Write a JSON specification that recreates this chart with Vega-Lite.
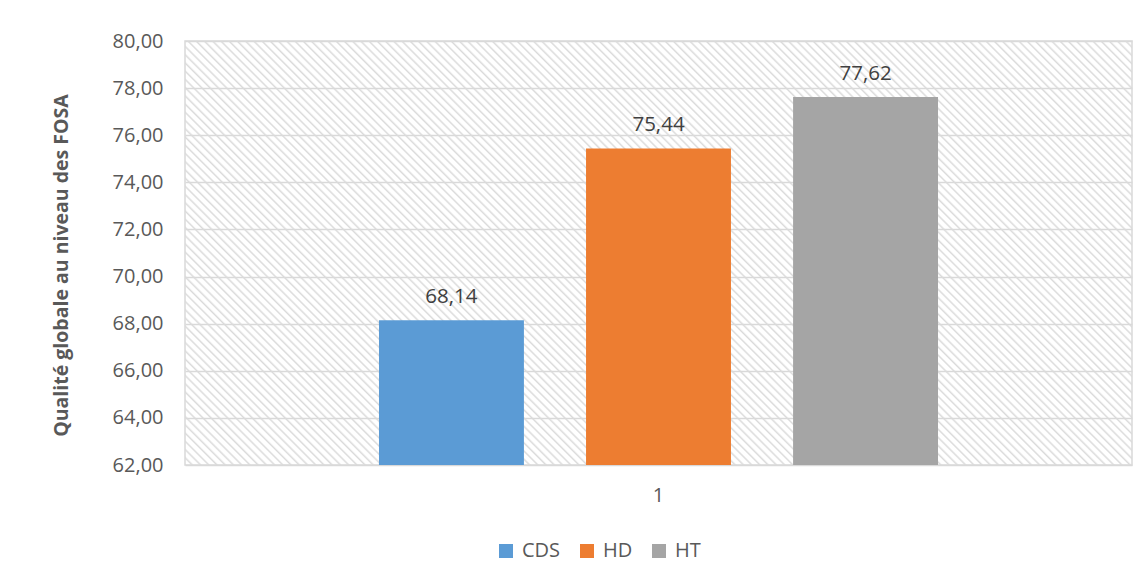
{
  "$schema": "https://vega.github.io/schema/vega-lite/v6.json",
  "width": 947,
  "height": 424,
  "autosize": "none",
  "padding": {"left": 185, "top": 41, "right": 16, "bottom": 115},
  "config": {
    "font": "Open Sans",
    "locale": {"number": {"decimal": ",", "thousands": " ", "grouping": [3], "currency": ["", " €"]}},
    "view": {"stroke": "#d9d9d9", "strokeWidth": 1.5},
    "legend": {
      "orient": "none", "legendX": 311, "legendY": 500, "direction": "horizontal",
      "symbolType": "square", "symbolSize": 196, "symbolStrokeWidth": 0,
      "labelFontSize": 20, "labelColor": "#595959", "labelFont": "Open Sans",
      "columnPadding": 16, "labelOffset": 6
    }
  },
  "layer": [
    {
      "data": {"values": [{}]},
      "mark": {
        "type": "rect",
        "fill": {
          "gradient": "linear", "x1": 1, "y1": 0, "x2": -0.206, "y2": 0.54,
          "stops": [
{"offset":0,"color":"rgba(218,218,218,0)"},{"offset":0.003,"color":"rgba(218,218,218,0)"},{"offset":0.0047,"color":"#dadada"},
{"offset":0.006,"color":"rgba(218,218,218,0)"},{"offset":0.009,"color":"rgba(218,218,218,0)"},{"offset":0.0107,"color":"#dadada"},
{"offset":0.012,"color":"rgba(218,218,218,0)"},{"offset":0.015,"color":"rgba(218,218,218,0)"},{"offset":0.0167,"color":"#dadada"},
{"offset":0.018,"color":"rgba(218,218,218,0)"},{"offset":0.021,"color":"rgba(218,218,218,0)"},{"offset":0.0227,"color":"#dadada"},
{"offset":0.024,"color":"rgba(218,218,218,0)"},{"offset":0.027,"color":"rgba(218,218,218,0)"},{"offset":0.0287,"color":"#dadada"},
{"offset":0.03,"color":"rgba(218,218,218,0)"},{"offset":0.033,"color":"rgba(218,218,218,0)"},{"offset":0.0347,"color":"#dadada"},
{"offset":0.036,"color":"rgba(218,218,218,0)"},{"offset":0.039,"color":"rgba(218,218,218,0)"},{"offset":0.0407,"color":"#dadada"},
{"offset":0.042,"color":"rgba(218,218,218,0)"},{"offset":0.045,"color":"rgba(218,218,218,0)"},{"offset":0.0467,"color":"#dadada"},
{"offset":0.048,"color":"rgba(218,218,218,0)"},{"offset":0.051,"color":"rgba(218,218,218,0)"},{"offset":0.0527,"color":"#dadada"},
{"offset":0.054,"color":"rgba(218,218,218,0)"},{"offset":0.057,"color":"rgba(218,218,218,0)"},{"offset":0.0587,"color":"#dadada"},
{"offset":0.06,"color":"rgba(218,218,218,0)"},{"offset":0.063,"color":"rgba(218,218,218,0)"},{"offset":0.0647,"color":"#dadada"},
{"offset":0.066,"color":"rgba(218,218,218,0)"},{"offset":0.069,"color":"rgba(218,218,218,0)"},{"offset":0.0707,"color":"#dadada"},
{"offset":0.072,"color":"rgba(218,218,218,0)"},{"offset":0.075,"color":"rgba(218,218,218,0)"},{"offset":0.0767,"color":"#dadada"},
{"offset":0.078,"color":"rgba(218,218,218,0)"},{"offset":0.081,"color":"rgba(218,218,218,0)"},{"offset":0.0827,"color":"#dadada"},
{"offset":0.084,"color":"rgba(218,218,218,0)"},{"offset":0.087,"color":"rgba(218,218,218,0)"},{"offset":0.0887,"color":"#dadada"},
{"offset":0.09,"color":"rgba(218,218,218,0)"},{"offset":0.093,"color":"rgba(218,218,218,0)"},{"offset":0.0947,"color":"#dadada"},
{"offset":0.096,"color":"rgba(218,218,218,0)"},{"offset":0.099,"color":"rgba(218,218,218,0)"},{"offset":0.1007,"color":"#dadada"},
{"offset":0.102,"color":"rgba(218,218,218,0)"},{"offset":0.105,"color":"rgba(218,218,218,0)"},{"offset":0.1067,"color":"#dadada"},
{"offset":0.108,"color":"rgba(218,218,218,0)"},{"offset":0.111,"color":"rgba(218,218,218,0)"},{"offset":0.1127,"color":"#dadada"},
{"offset":0.114,"color":"rgba(218,218,218,0)"},{"offset":0.117,"color":"rgba(218,218,218,0)"},{"offset":0.1187,"color":"#dadada"},
{"offset":0.12,"color":"rgba(218,218,218,0)"},{"offset":0.123,"color":"rgba(218,218,218,0)"},{"offset":0.1247,"color":"#dadada"},
{"offset":0.126,"color":"rgba(218,218,218,0)"},{"offset":0.129,"color":"rgba(218,218,218,0)"},{"offset":0.1307,"color":"#dadada"},
{"offset":0.132,"color":"rgba(218,218,218,0)"},{"offset":0.135,"color":"rgba(218,218,218,0)"},{"offset":0.1367,"color":"#dadada"},
{"offset":0.138,"color":"rgba(218,218,218,0)"},{"offset":0.141,"color":"rgba(218,218,218,0)"},{"offset":0.1427,"color":"#dadada"},
{"offset":0.144,"color":"rgba(218,218,218,0)"},{"offset":0.147,"color":"rgba(218,218,218,0)"},{"offset":0.1487,"color":"#dadada"},
{"offset":0.15,"color":"rgba(218,218,218,0)"},{"offset":0.153,"color":"rgba(218,218,218,0)"},{"offset":0.1547,"color":"#dadada"},
{"offset":0.156,"color":"rgba(218,218,218,0)"},{"offset":0.159,"color":"rgba(218,218,218,0)"},{"offset":0.1607,"color":"#dadada"},
{"offset":0.162,"color":"rgba(218,218,218,0)"},{"offset":0.165,"color":"rgba(218,218,218,0)"},{"offset":0.1667,"color":"#dadada"},
{"offset":0.168,"color":"rgba(218,218,218,0)"},{"offset":0.171,"color":"rgba(218,218,218,0)"},{"offset":0.1727,"color":"#dadada"},
{"offset":0.174,"color":"rgba(218,218,218,0)"},{"offset":0.177,"color":"rgba(218,218,218,0)"},{"offset":0.1787,"color":"#dadada"},
{"offset":0.18,"color":"rgba(218,218,218,0)"},{"offset":0.183,"color":"rgba(218,218,218,0)"},{"offset":0.1847,"color":"#dadada"},
{"offset":0.186,"color":"rgba(218,218,218,0)"},{"offset":0.189,"color":"rgba(218,218,218,0)"},{"offset":0.1907,"color":"#dadada"},
{"offset":0.192,"color":"rgba(218,218,218,0)"},{"offset":0.195,"color":"rgba(218,218,218,0)"},{"offset":0.1967,"color":"#dadada"},
{"offset":0.198,"color":"rgba(218,218,218,0)"},{"offset":0.201,"color":"rgba(218,218,218,0)"},{"offset":0.2027,"color":"#dadada"},
{"offset":0.204,"color":"rgba(218,218,218,0)"},{"offset":0.207,"color":"rgba(218,218,218,0)"},{"offset":0.2087,"color":"#dadada"},
{"offset":0.21,"color":"rgba(218,218,218,0)"},{"offset":0.213,"color":"rgba(218,218,218,0)"},{"offset":0.2147,"color":"#dadada"},
{"offset":0.216,"color":"rgba(218,218,218,0)"},{"offset":0.219,"color":"rgba(218,218,218,0)"},{"offset":0.2207,"color":"#dadada"},
{"offset":0.222,"color":"rgba(218,218,218,0)"},{"offset":0.225,"color":"rgba(218,218,218,0)"},{"offset":0.2267,"color":"#dadada"},
{"offset":0.228,"color":"rgba(218,218,218,0)"},{"offset":0.231,"color":"rgba(218,218,218,0)"},{"offset":0.2327,"color":"#dadada"},
{"offset":0.234,"color":"rgba(218,218,218,0)"},{"offset":0.237,"color":"rgba(218,218,218,0)"},{"offset":0.2387,"color":"#dadada"},
{"offset":0.24,"color":"rgba(218,218,218,0)"},{"offset":0.243,"color":"rgba(218,218,218,0)"},{"offset":0.2447,"color":"#dadada"},
{"offset":0.246,"color":"rgba(218,218,218,0)"},{"offset":0.249,"color":"rgba(218,218,218,0)"},{"offset":0.2507,"color":"#dadada"},
{"offset":0.252,"color":"rgba(218,218,218,0)"},{"offset":0.255,"color":"rgba(218,218,218,0)"},{"offset":0.2567,"color":"#dadada"},
{"offset":0.258,"color":"rgba(218,218,218,0)"},{"offset":0.261,"color":"rgba(218,218,218,0)"},{"offset":0.2627,"color":"#dadada"},
{"offset":0.264,"color":"rgba(218,218,218,0)"},{"offset":0.267,"color":"rgba(218,218,218,0)"},{"offset":0.2687,"color":"#dadada"},
{"offset":0.27,"color":"rgba(218,218,218,0)"},{"offset":0.273,"color":"rgba(218,218,218,0)"},{"offset":0.2747,"color":"#dadada"},
{"offset":0.276,"color":"rgba(218,218,218,0)"},{"offset":0.279,"color":"rgba(218,218,218,0)"},{"offset":0.2807,"color":"#dadada"},
{"offset":0.282,"color":"rgba(218,218,218,0)"},{"offset":0.285,"color":"rgba(218,218,218,0)"},{"offset":0.2867,"color":"#dadada"},
{"offset":0.288,"color":"rgba(218,218,218,0)"},{"offset":0.291,"color":"rgba(218,218,218,0)"},{"offset":0.2927,"color":"#dadada"},
{"offset":0.294,"color":"rgba(218,218,218,0)"},{"offset":0.297,"color":"rgba(218,218,218,0)"},{"offset":0.2987,"color":"#dadada"},
{"offset":0.3,"color":"rgba(218,218,218,0)"},{"offset":0.303,"color":"rgba(218,218,218,0)"},{"offset":0.3047,"color":"#dadada"},
{"offset":0.306,"color":"rgba(218,218,218,0)"},{"offset":0.309,"color":"rgba(218,218,218,0)"},{"offset":0.3107,"color":"#dadada"},
{"offset":0.312,"color":"rgba(218,218,218,0)"},{"offset":0.315,"color":"rgba(218,218,218,0)"},{"offset":0.3167,"color":"#dadada"},
{"offset":0.318,"color":"rgba(218,218,218,0)"},{"offset":0.321,"color":"rgba(218,218,218,0)"},{"offset":0.3227,"color":"#dadada"},
{"offset":0.324,"color":"rgba(218,218,218,0)"},{"offset":0.327,"color":"rgba(218,218,218,0)"},{"offset":0.3287,"color":"#dadada"},
{"offset":0.33,"color":"rgba(218,218,218,0)"},{"offset":0.333,"color":"rgba(218,218,218,0)"},{"offset":0.3347,"color":"#dadada"},
{"offset":0.336,"color":"rgba(218,218,218,0)"},{"offset":0.339,"color":"rgba(218,218,218,0)"},{"offset":0.3407,"color":"#dadada"},
{"offset":0.342,"color":"rgba(218,218,218,0)"},{"offset":0.345,"color":"rgba(218,218,218,0)"},{"offset":0.3467,"color":"#dadada"},
{"offset":0.348,"color":"rgba(218,218,218,0)"},{"offset":0.351,"color":"rgba(218,218,218,0)"},{"offset":0.3527,"color":"#dadada"},
{"offset":0.354,"color":"rgba(218,218,218,0)"},{"offset":0.357,"color":"rgba(218,218,218,0)"},{"offset":0.3587,"color":"#dadada"},
{"offset":0.36,"color":"rgba(218,218,218,0)"},{"offset":0.363,"color":"rgba(218,218,218,0)"},{"offset":0.3647,"color":"#dadada"},
{"offset":0.366,"color":"rgba(218,218,218,0)"},{"offset":0.369,"color":"rgba(218,218,218,0)"},{"offset":0.3707,"color":"#dadada"},
{"offset":0.372,"color":"rgba(218,218,218,0)"},{"offset":0.375,"color":"rgba(218,218,218,0)"},{"offset":0.3767,"color":"#dadada"},
{"offset":0.378,"color":"rgba(218,218,218,0)"},{"offset":0.381,"color":"rgba(218,218,218,0)"},{"offset":0.3827,"color":"#dadada"},
{"offset":0.384,"color":"rgba(218,218,218,0)"},{"offset":0.387,"color":"rgba(218,218,218,0)"},{"offset":0.3887,"color":"#dadada"},
{"offset":0.39,"color":"rgba(218,218,218,0)"},{"offset":0.393,"color":"rgba(218,218,218,0)"},{"offset":0.3947,"color":"#dadada"},
{"offset":0.396,"color":"rgba(218,218,218,0)"},{"offset":0.399,"color":"rgba(218,218,218,0)"},{"offset":0.4007,"color":"#dadada"},
{"offset":0.402,"color":"rgba(218,218,218,0)"},{"offset":0.405,"color":"rgba(218,218,218,0)"},{"offset":0.4067,"color":"#dadada"},
{"offset":0.408,"color":"rgba(218,218,218,0)"},{"offset":0.411,"color":"rgba(218,218,218,0)"},{"offset":0.4127,"color":"#dadada"},
{"offset":0.414,"color":"rgba(218,218,218,0)"},{"offset":0.417,"color":"rgba(218,218,218,0)"},{"offset":0.4187,"color":"#dadada"},
{"offset":0.42,"color":"rgba(218,218,218,0)"},{"offset":0.423,"color":"rgba(218,218,218,0)"},{"offset":0.4247,"color":"#dadada"},
{"offset":0.426,"color":"rgba(218,218,218,0)"},{"offset":0.429,"color":"rgba(218,218,218,0)"},{"offset":0.4307,"color":"#dadada"},
{"offset":0.432,"color":"rgba(218,218,218,0)"},{"offset":0.435,"color":"rgba(218,218,218,0)"},{"offset":0.4367,"color":"#dadada"},
{"offset":0.438,"color":"rgba(218,218,218,0)"},{"offset":0.441,"color":"rgba(218,218,218,0)"},{"offset":0.4427,"color":"#dadada"},
{"offset":0.444,"color":"rgba(218,218,218,0)"},{"offset":0.447,"color":"rgba(218,218,218,0)"},{"offset":0.4487,"color":"#dadada"},
{"offset":0.45,"color":"rgba(218,218,218,0)"},{"offset":0.453,"color":"rgba(218,218,218,0)"},{"offset":0.4547,"color":"#dadada"},
{"offset":0.456,"color":"rgba(218,218,218,0)"},{"offset":0.459,"color":"rgba(218,218,218,0)"},{"offset":0.4607,"color":"#dadada"},
{"offset":0.462,"color":"rgba(218,218,218,0)"},{"offset":0.465,"color":"rgba(218,218,218,0)"},{"offset":0.4667,"color":"#dadada"},
{"offset":0.468,"color":"rgba(218,218,218,0)"},{"offset":0.471,"color":"rgba(218,218,218,0)"},{"offset":0.4727,"color":"#dadada"},
{"offset":0.474,"color":"rgba(218,218,218,0)"},{"offset":0.477,"color":"rgba(218,218,218,0)"},{"offset":0.4787,"color":"#dadada"},
{"offset":0.48,"color":"rgba(218,218,218,0)"},{"offset":0.483,"color":"rgba(218,218,218,0)"},{"offset":0.4847,"color":"#dadada"},
{"offset":0.486,"color":"rgba(218,218,218,0)"},{"offset":0.489,"color":"rgba(218,218,218,0)"},{"offset":0.4907,"color":"#dadada"},
{"offset":0.492,"color":"rgba(218,218,218,0)"},{"offset":0.495,"color":"rgba(218,218,218,0)"},{"offset":0.4967,"color":"#dadada"},
{"offset":0.498,"color":"rgba(218,218,218,0)"},{"offset":0.501,"color":"rgba(218,218,218,0)"},{"offset":0.5027,"color":"#dadada"},
{"offset":0.504,"color":"rgba(218,218,218,0)"},{"offset":0.507,"color":"rgba(218,218,218,0)"},{"offset":0.5087,"color":"#dadada"},
{"offset":0.51,"color":"rgba(218,218,218,0)"},{"offset":0.513,"color":"rgba(218,218,218,0)"},{"offset":0.5147,"color":"#dadada"},
{"offset":0.516,"color":"rgba(218,218,218,0)"},{"offset":0.519,"color":"rgba(218,218,218,0)"},{"offset":0.5207,"color":"#dadada"},
{"offset":0.522,"color":"rgba(218,218,218,0)"},{"offset":0.525,"color":"rgba(218,218,218,0)"},{"offset":0.5267,"color":"#dadada"},
{"offset":0.528,"color":"rgba(218,218,218,0)"},{"offset":0.531,"color":"rgba(218,218,218,0)"},{"offset":0.5327,"color":"#dadada"},
{"offset":0.534,"color":"rgba(218,218,218,0)"},{"offset":0.537,"color":"rgba(218,218,218,0)"},{"offset":0.5387,"color":"#dadada"},
{"offset":0.54,"color":"rgba(218,218,218,0)"},{"offset":0.543,"color":"rgba(218,218,218,0)"},{"offset":0.5447,"color":"#dadada"},
{"offset":0.546,"color":"rgba(218,218,218,0)"},{"offset":0.549,"color":"rgba(218,218,218,0)"},{"offset":0.5507,"color":"#dadada"},
{"offset":0.552,"color":"rgba(218,218,218,0)"},{"offset":0.555,"color":"rgba(218,218,218,0)"},{"offset":0.5567,"color":"#dadada"},
{"offset":0.558,"color":"rgba(218,218,218,0)"},{"offset":0.561,"color":"rgba(218,218,218,0)"},{"offset":0.5627,"color":"#dadada"},
{"offset":0.564,"color":"rgba(218,218,218,0)"},{"offset":0.567,"color":"rgba(218,218,218,0)"},{"offset":0.5687,"color":"#dadada"},
{"offset":0.57,"color":"rgba(218,218,218,0)"},{"offset":0.573,"color":"rgba(218,218,218,0)"},{"offset":0.5747,"color":"#dadada"},
{"offset":0.576,"color":"rgba(218,218,218,0)"},{"offset":0.579,"color":"rgba(218,218,218,0)"},{"offset":0.5807,"color":"#dadada"},
{"offset":0.582,"color":"rgba(218,218,218,0)"},{"offset":0.585,"color":"rgba(218,218,218,0)"},{"offset":0.5867,"color":"#dadada"},
{"offset":0.588,"color":"rgba(218,218,218,0)"},{"offset":0.591,"color":"rgba(218,218,218,0)"},{"offset":0.5927,"color":"#dadada"},
{"offset":0.594,"color":"rgba(218,218,218,0)"},{"offset":0.597,"color":"rgba(218,218,218,0)"},{"offset":0.5987,"color":"#dadada"},
{"offset":0.6,"color":"rgba(218,218,218,0)"},{"offset":0.603,"color":"rgba(218,218,218,0)"},{"offset":0.6047,"color":"#dadada"},
{"offset":0.606,"color":"rgba(218,218,218,0)"},{"offset":0.609,"color":"rgba(218,218,218,0)"},{"offset":0.6107,"color":"#dadada"},
{"offset":0.612,"color":"rgba(218,218,218,0)"},{"offset":0.615,"color":"rgba(218,218,218,0)"},{"offset":0.6167,"color":"#dadada"},
{"offset":0.618,"color":"rgba(218,218,218,0)"},{"offset":0.621,"color":"rgba(218,218,218,0)"},{"offset":0.6227,"color":"#dadada"},
{"offset":0.624,"color":"rgba(218,218,218,0)"},{"offset":0.627,"color":"rgba(218,218,218,0)"},{"offset":0.6287,"color":"#dadada"},
{"offset":0.63,"color":"rgba(218,218,218,0)"},{"offset":0.633,"color":"rgba(218,218,218,0)"},{"offset":0.6347,"color":"#dadada"},
{"offset":0.636,"color":"rgba(218,218,218,0)"},{"offset":0.639,"color":"rgba(218,218,218,0)"},{"offset":0.6407,"color":"#dadada"},
{"offset":0.642,"color":"rgba(218,218,218,0)"},{"offset":0.645,"color":"rgba(218,218,218,0)"},{"offset":0.6467,"color":"#dadada"},
{"offset":0.648,"color":"rgba(218,218,218,0)"},{"offset":0.651,"color":"rgba(218,218,218,0)"},{"offset":0.6527,"color":"#dadada"},
{"offset":0.654,"color":"rgba(218,218,218,0)"},{"offset":0.657,"color":"rgba(218,218,218,0)"},{"offset":0.6587,"color":"#dadada"},
{"offset":0.66,"color":"rgba(218,218,218,0)"},{"offset":0.663,"color":"rgba(218,218,218,0)"},{"offset":0.6647,"color":"#dadada"},
{"offset":0.666,"color":"rgba(218,218,218,0)"},{"offset":0.669,"color":"rgba(218,218,218,0)"},{"offset":0.6707,"color":"#dadada"},
{"offset":0.672,"color":"rgba(218,218,218,0)"},{"offset":0.675,"color":"rgba(218,218,218,0)"},{"offset":0.6767,"color":"#dadada"},
{"offset":0.678,"color":"rgba(218,218,218,0)"},{"offset":0.681,"color":"rgba(218,218,218,0)"},{"offset":0.6827,"color":"#dadada"},
{"offset":0.684,"color":"rgba(218,218,218,0)"},{"offset":0.687,"color":"rgba(218,218,218,0)"},{"offset":0.6887,"color":"#dadada"},
{"offset":0.69,"color":"rgba(218,218,218,0)"},{"offset":0.693,"color":"rgba(218,218,218,0)"},{"offset":0.6947,"color":"#dadada"},
{"offset":0.696,"color":"rgba(218,218,218,0)"},{"offset":0.699,"color":"rgba(218,218,218,0)"},{"offset":0.7007,"color":"#dadada"},
{"offset":0.702,"color":"rgba(218,218,218,0)"},{"offset":0.705,"color":"rgba(218,218,218,0)"},{"offset":0.7067,"color":"#dadada"},
{"offset":0.708,"color":"rgba(218,218,218,0)"},{"offset":0.711,"color":"rgba(218,218,218,0)"},{"offset":0.7127,"color":"#dadada"},
{"offset":0.714,"color":"rgba(218,218,218,0)"},{"offset":0.717,"color":"rgba(218,218,218,0)"},{"offset":0.7187,"color":"#dadada"},
{"offset":0.72,"color":"rgba(218,218,218,0)"},{"offset":0.723,"color":"rgba(218,218,218,0)"},{"offset":0.7247,"color":"#dadada"},
{"offset":0.726,"color":"rgba(218,218,218,0)"},{"offset":0.729,"color":"rgba(218,218,218,0)"},{"offset":0.7307,"color":"#dadada"},
{"offset":0.732,"color":"rgba(218,218,218,0)"},{"offset":0.735,"color":"rgba(218,218,218,0)"},{"offset":0.7367,"color":"#dadada"},
{"offset":0.738,"color":"rgba(218,218,218,0)"},{"offset":0.741,"color":"rgba(218,218,218,0)"},{"offset":0.7427,"color":"#dadada"},
{"offset":0.744,"color":"rgba(218,218,218,0)"},{"offset":0.747,"color":"rgba(218,218,218,0)"},{"offset":0.7487,"color":"#dadada"},
{"offset":0.75,"color":"rgba(218,218,218,0)"},{"offset":0.753,"color":"rgba(218,218,218,0)"},{"offset":0.7547,"color":"#dadada"},
{"offset":0.756,"color":"rgba(218,218,218,0)"},{"offset":0.759,"color":"rgba(218,218,218,0)"},{"offset":0.7607,"color":"#dadada"},
{"offset":0.762,"color":"rgba(218,218,218,0)"},{"offset":0.765,"color":"rgba(218,218,218,0)"},{"offset":0.7667,"color":"#dadada"},
{"offset":0.768,"color":"rgba(218,218,218,0)"},{"offset":0.771,"color":"rgba(218,218,218,0)"},{"offset":0.7727,"color":"#dadada"},
{"offset":0.774,"color":"rgba(218,218,218,0)"},{"offset":0.777,"color":"rgba(218,218,218,0)"},{"offset":0.7787,"color":"#dadada"},
{"offset":0.78,"color":"rgba(218,218,218,0)"},{"offset":0.783,"color":"rgba(218,218,218,0)"},{"offset":0.7847,"color":"#dadada"},
{"offset":0.786,"color":"rgba(218,218,218,0)"},{"offset":0.789,"color":"rgba(218,218,218,0)"},{"offset":0.7907,"color":"#dadada"},
{"offset":0.792,"color":"rgba(218,218,218,0)"},{"offset":0.795,"color":"rgba(218,218,218,0)"},{"offset":0.7967,"color":"#dadada"},
{"offset":0.798,"color":"rgba(218,218,218,0)"},{"offset":0.801,"color":"rgba(218,218,218,0)"},{"offset":0.8027,"color":"#dadada"},
{"offset":0.804,"color":"rgba(218,218,218,0)"},{"offset":0.807,"color":"rgba(218,218,218,0)"},{"offset":0.8087,"color":"#dadada"},
{"offset":0.81,"color":"rgba(218,218,218,0)"},{"offset":0.813,"color":"rgba(218,218,218,0)"},{"offset":0.8147,"color":"#dadada"},
{"offset":0.816,"color":"rgba(218,218,218,0)"},{"offset":0.819,"color":"rgba(218,218,218,0)"},{"offset":0.8207,"color":"#dadada"},
{"offset":0.822,"color":"rgba(218,218,218,0)"},{"offset":0.825,"color":"rgba(218,218,218,0)"},{"offset":0.8267,"color":"#dadada"},
{"offset":0.828,"color":"rgba(218,218,218,0)"},{"offset":0.831,"color":"rgba(218,218,218,0)"},{"offset":0.8327,"color":"#dadada"},
{"offset":0.834,"color":"rgba(218,218,218,0)"},{"offset":0.837,"color":"rgba(218,218,218,0)"},{"offset":0.8387,"color":"#dadada"},
{"offset":0.84,"color":"rgba(218,218,218,0)"},{"offset":0.843,"color":"rgba(218,218,218,0)"},{"offset":0.8447,"color":"#dadada"},
{"offset":0.846,"color":"rgba(218,218,218,0)"},{"offset":0.849,"color":"rgba(218,218,218,0)"},{"offset":0.8507,"color":"#dadada"},
{"offset":0.852,"color":"rgba(218,218,218,0)"},{"offset":0.855,"color":"rgba(218,218,218,0)"},{"offset":0.8567,"color":"#dadada"},
{"offset":0.858,"color":"rgba(218,218,218,0)"},{"offset":0.861,"color":"rgba(218,218,218,0)"},{"offset":0.8627,"color":"#dadada"},
{"offset":0.864,"color":"rgba(218,218,218,0)"},{"offset":0.867,"color":"rgba(218,218,218,0)"},{"offset":0.8687,"color":"#dadada"},
{"offset":0.87,"color":"rgba(218,218,218,0)"},{"offset":0.873,"color":"rgba(218,218,218,0)"},{"offset":0.8747,"color":"#dadada"},
{"offset":0.876,"color":"rgba(218,218,218,0)"},{"offset":0.879,"color":"rgba(218,218,218,0)"},{"offset":0.8807,"color":"#dadada"},
{"offset":0.882,"color":"rgba(218,218,218,0)"},{"offset":0.885,"color":"rgba(218,218,218,0)"},{"offset":0.8867,"color":"#dadada"},
{"offset":0.888,"color":"rgba(218,218,218,0)"},{"offset":0.891,"color":"rgba(218,218,218,0)"},{"offset":0.8927,"color":"#dadada"},
{"offset":0.894,"color":"rgba(218,218,218,0)"},{"offset":0.897,"color":"rgba(218,218,218,0)"},{"offset":0.8987,"color":"#dadada"},
{"offset":0.9,"color":"rgba(218,218,218,0)"},{"offset":0.903,"color":"rgba(218,218,218,0)"},{"offset":0.9047,"color":"#dadada"},
{"offset":0.906,"color":"rgba(218,218,218,0)"},{"offset":0.909,"color":"rgba(218,218,218,0)"},{"offset":0.9107,"color":"#dadada"},
{"offset":0.912,"color":"rgba(218,218,218,0)"},{"offset":0.915,"color":"rgba(218,218,218,0)"},{"offset":0.9167,"color":"#dadada"},
{"offset":0.918,"color":"rgba(218,218,218,0)"},{"offset":0.921,"color":"rgba(218,218,218,0)"},{"offset":0.9227,"color":"#dadada"},
{"offset":0.924,"color":"rgba(218,218,218,0)"},{"offset":0.927,"color":"rgba(218,218,218,0)"},{"offset":0.9287,"color":"#dadada"},
{"offset":0.93,"color":"rgba(218,218,218,0)"},{"offset":0.933,"color":"rgba(218,218,218,0)"},{"offset":0.9347,"color":"#dadada"},
{"offset":0.936,"color":"rgba(218,218,218,0)"},{"offset":0.939,"color":"rgba(218,218,218,0)"},{"offset":0.9407,"color":"#dadada"},
{"offset":0.942,"color":"rgba(218,218,218,0)"},{"offset":0.945,"color":"rgba(218,218,218,0)"},{"offset":0.9467,"color":"#dadada"},
{"offset":0.948,"color":"rgba(218,218,218,0)"},{"offset":0.951,"color":"rgba(218,218,218,0)"},{"offset":0.9527,"color":"#dadada"},
{"offset":0.954,"color":"rgba(218,218,218,0)"},{"offset":0.957,"color":"rgba(218,218,218,0)"},{"offset":0.9587,"color":"#dadada"},
{"offset":0.96,"color":"rgba(218,218,218,0)"},{"offset":0.963,"color":"rgba(218,218,218,0)"},{"offset":0.9647,"color":"#dadada"},
{"offset":0.966,"color":"rgba(218,218,218,0)"},{"offset":0.969,"color":"rgba(218,218,218,0)"},{"offset":0.9707,"color":"#dadada"},
{"offset":0.972,"color":"rgba(218,218,218,0)"},{"offset":0.975,"color":"rgba(218,218,218,0)"},{"offset":0.9767,"color":"#dadada"},
{"offset":0.978,"color":"rgba(218,218,218,0)"},{"offset":0.981,"color":"rgba(218,218,218,0)"},{"offset":0.9827,"color":"#dadada"},
{"offset":0.984,"color":"rgba(218,218,218,0)"},{"offset":0.987,"color":"rgba(218,218,218,0)"},{"offset":0.9887,"color":"#dadada"},
{"offset":0.99,"color":"rgba(218,218,218,0)"},{"offset":0.993,"color":"rgba(218,218,218,0)"},{"offset":0.9947,"color":"#dadada"},
{"offset":0.996,"color":"rgba(218,218,218,0)"},{"offset":0.999,"color":"rgba(218,218,218,0)"},{"offset":1,"color":"#dadada"}
          ]
        }
      },
      "encoding": {
        "y": {"datum": 62, "type": "quantitative"},
        "y2": {"datum": 80}
      }
    },
    {
      "data": {"values": [
        {"groupe": "1", "structure": "CDS", "qualite": 68.14},
        {"groupe": "1", "structure": "HD", "qualite": 75.44},
        {"groupe": "1", "structure": "HT", "qualite": 77.62}
      ]},
      "layer": [
        {
          "mark": {"type": "bar"},
          "encoding": {
            "x": {
              "field": "groupe", "type": "nominal",
              "scale": {"paddingInner": 0, "paddingOuter": 0.347},
              "axis": {
                "title": null, "labelAngle": 0, "domain": false, "ticks": false,
                "labelFontSize": 20, "labelColor": "#595959", "labelPadding": 20
              }
            },
            "xOffset": {
              "field": "structure", "type": "nominal",
              "scale": {"paddingInner": 0.3, "paddingOuter": 0}
            },
            "y": {
              "field": "qualite", "type": "quantitative",
              "scale": {"domain": [62, 80], "zero": false, "nice": false},
              "axis": {
                "title": "Qualité globale au niveau des FOSA",
                "titleFontSize": 19.5, "titleFontWeight": "bold", "titleColor": "#595959",
                "titlePadding": 41, "titleY": 224,
                "values": [62, 64, 66, 68, 70, 72, 74, 76, 78, 80],
                "format": ".2f",
                "labelFontSize": 20, "labelColor": "#595959", "labelPadding": 22,
                "domain": false, "ticks": false,
                "grid": true, "gridColor": "#d9d9d9", "gridWidth": 1.5
              }
            },
            "y2": {"datum": 62},
            "color": {
              "field": "structure", "type": "nominal",
              "scale": {"domain": ["CDS", "HD", "HT"], "range": ["#5B9BD5", "#ED7D31", "#A5A5A5"]},
              "legend": {"title": null}
            }
          }
        },
        {
          "mark": {"type": "text", "baseline": "alphabetic", "dy": -17, "fontSize": 20.5, "color": "#404040"},
          "encoding": {
            "x": {"field": "groupe", "type": "nominal"},
            "xOffset": {"field": "structure", "type": "nominal"},
            "y": {"field": "qualite", "type": "quantitative"},
            "text": {"field": "qualite", "type": "quantitative", "format": ".2f"}
          }
        }
      ]
    }
  ]
}
